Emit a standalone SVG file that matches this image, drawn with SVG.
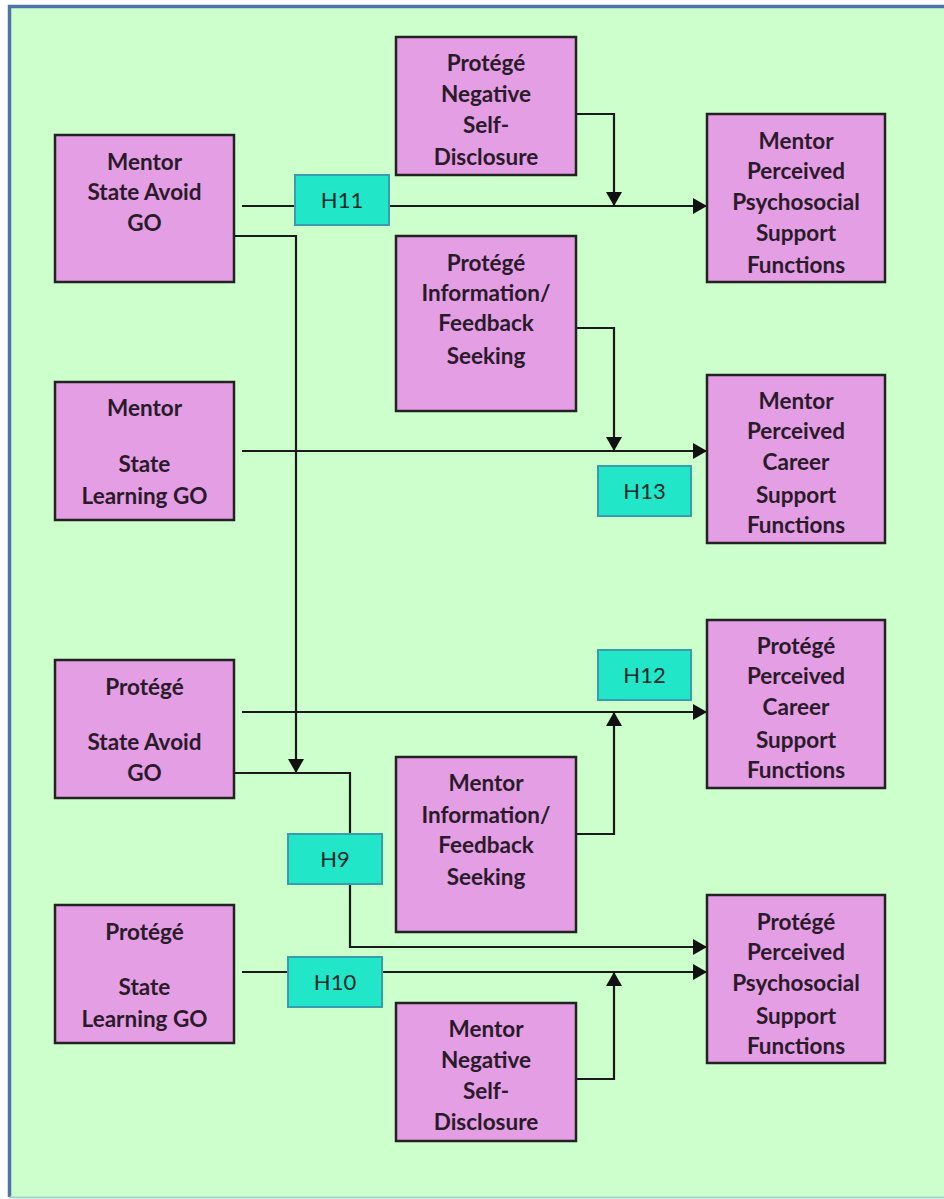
<svg xmlns="http://www.w3.org/2000/svg" width="944" height="1199" viewBox="0 0 944 1199">
  <style>
    .box { fill: #E49EE4; stroke: #222; stroke-width: 2.5; }
    .hyp { fill: #22E6C8; stroke: #3A9DAE; stroke-width: 2; }
    .lbl { font-family: Lato, "Open Sans", "Liberation Sans", sans-serif; font-weight: bold; font-size: 22.5px; fill: #2a1a2a; text-anchor: middle; }
    .hl { font-family: Lato, "Open Sans", "Liberation Sans", sans-serif; font-size: 22px; fill: #1a2a2a; text-anchor: middle; }
    .wire { fill: none; stroke: #1a1a1a; stroke-width: 2.2; }
  </style>
  <defs>
    <marker id="arrow" markerUnits="userSpaceOnUse" markerWidth="15" markerHeight="16" refX="14" refY="8" orient="auto">
      <path d="M0,0 L14,8 L0,16 z" fill="#111"/>
    </marker>
  </defs>

  <!-- canvas frame -->
  <rect x="0" y="0" width="944" height="1199" fill="#ffffff"/>
  <rect x="9" y="6" width="935" height="1191" fill="#CCFFCC"/>
  <path d="M9.5,1197 L9.5,6.5 L944,6.5" fill="none" stroke="#4E73A8" stroke-width="3.5"/>
  <line x1="9" y1="1197.5" x2="944" y2="1197.5" stroke="#9FD6D0" stroke-width="2"/>

  <!-- connectors -->
  <g id="connectors">
    <line class="wire" x1="242" y1="206" x2="295" y2="206"/>
    <line class="wire" x1="389" y1="206" x2="707" y2="206" marker-end="url(#arrow)"/>
    <path class="wire" d="M234,236 L296,236 L296,773" marker-end="url(#arrow)"/>
    <path class="wire" d="M576,114 L614,114 L614,206" marker-end="url(#arrow)"/>
    <line class="wire" x1="242" y1="451" x2="707" y2="451" marker-end="url(#arrow)"/>
    <path class="wire" d="M576,328 L614,328 L614,451" marker-end="url(#arrow)"/>
    <line class="wire" x1="242" y1="712" x2="707" y2="712" marker-end="url(#arrow)"/>
    <path class="wire" d="M576,834 L614,834 L614,712" marker-end="url(#arrow)"/>
    <path class="wire" d="M234,773 L350,773 L350,834"/>
    <path class="wire" d="M350,884 L350,947 L707,947" marker-end="url(#arrow)"/>
    <line class="wire" x1="242" y1="972" x2="288" y2="972"/>
    <line class="wire" x1="382" y1="972" x2="707" y2="972" marker-end="url(#arrow)"/>
    <path class="wire" d="M576,1079 L614,1079 L614,972" marker-end="url(#arrow)"/>
  </g>

  <!-- predictor nodes -->
  <g id="mentor-state-avoid">
    <rect class="box" x="55" y="135" width="179" height="147"/>
    <text class="lbl" x="144.5" y="170">Mentor</text>
    <text class="lbl" x="144.5" y="200">State Avoid</text>
    <text class="lbl" x="144.5" y="231">GO</text>
  </g>
  <g id="mentor-state-learning">
    <rect class="box" x="55" y="382" width="179" height="138"/>
    <text class="lbl" x="144.5" y="416">Mentor</text>
    <text class="lbl" x="144.5" y="472">State</text>
    <text class="lbl" x="144.5" y="504">Learning GO</text>
  </g>
  <g id="protege-state-avoid">
    <rect class="box" x="55" y="660" width="179" height="138"/>
    <text class="lbl" x="144.5" y="695">Protégé</text>
    <text class="lbl" x="144.5" y="750">State Avoid</text>
    <text class="lbl" x="144.5" y="781">GO</text>
  </g>
  <g id="protege-state-learning">
    <rect class="box" x="55" y="905" width="179" height="138"/>
    <text class="lbl" x="144.5" y="940">Protégé</text>
    <text class="lbl" x="144.5" y="995">State</text>
    <text class="lbl" x="144.5" y="1027">Learning GO</text>
  </g>

  <!-- moderator nodes -->
  <g id="protege-negative-disclosure">
    <rect class="box" x="396" y="37" width="180" height="138"/>
    <text class="lbl" x="486" y="71">Protégé</text>
    <text class="lbl" x="486" y="102">Negative</text>
    <text class="lbl" x="486" y="133">Self-</text>
    <text class="lbl" x="486" y="165">Disclosure</text>
  </g>
  <g id="protege-feedback-seeking">
    <rect class="box" x="396" y="236" width="180" height="175"/>
    <text class="lbl" x="486" y="271">Protégé</text>
    <text class="lbl" x="486" y="301">Information/</text>
    <text class="lbl" x="486" y="331">Feedback</text>
    <text class="lbl" x="486" y="364">Seeking</text>
  </g>
  <g id="mentor-feedback-seeking">
    <rect class="box" x="396" y="757" width="180" height="175"/>
    <text class="lbl" x="486" y="791">Mentor</text>
    <text class="lbl" x="486" y="823">Information/</text>
    <text class="lbl" x="486" y="853">Feedback</text>
    <text class="lbl" x="486" y="885">Seeking</text>
  </g>
  <g id="mentor-negative-disclosure">
    <rect class="box" x="396" y="1003" width="180" height="138"/>
    <text class="lbl" x="486" y="1037">Mentor</text>
    <text class="lbl" x="486" y="1068">Negative</text>
    <text class="lbl" x="486" y="1099">Self-</text>
    <text class="lbl" x="486" y="1130">Disclosure</text>
  </g>

  <!-- outcome nodes -->
  <g id="mentor-psychosocial">
    <rect class="box" x="707" y="114" width="178" height="168"/>
    <text class="lbl" x="796" y="149">Mentor</text>
    <text class="lbl" x="796" y="179">Perceived</text>
    <text class="lbl" x="796" y="210">Psychosocial</text>
    <text class="lbl" x="796" y="241">Support</text>
    <text class="lbl" x="796" y="273">Functions</text>
  </g>
  <g id="mentor-career">
    <rect class="box" x="707" y="375" width="178" height="168"/>
    <text class="lbl" x="796" y="409">Mentor</text>
    <text class="lbl" x="796" y="439">Perceived</text>
    <text class="lbl" x="796" y="470">Career</text>
    <text class="lbl" x="796" y="503">Support</text>
    <text class="lbl" x="796" y="533">Functions</text>
  </g>
  <g id="protege-career">
    <rect class="box" x="707" y="620" width="178" height="168"/>
    <text class="lbl" x="796" y="654">Protégé</text>
    <text class="lbl" x="796" y="684">Perceived</text>
    <text class="lbl" x="796" y="715">Career</text>
    <text class="lbl" x="796" y="748">Support</text>
    <text class="lbl" x="796" y="778">Functions</text>
  </g>
  <g id="protege-psychosocial">
    <rect class="box" x="707" y="895" width="178" height="168"/>
    <text class="lbl" x="796" y="930">Protégé</text>
    <text class="lbl" x="796" y="960">Perceived</text>
    <text class="lbl" x="796" y="991">Psychosocial</text>
    <text class="lbl" x="796" y="1024">Support</text>
    <text class="lbl" x="796" y="1054">Functions</text>
  </g>

  <!-- hypothesis tags -->
  <g id="h11">
    <rect class="hyp" x="295" y="175" width="94" height="50"/>
    <text class="hl" x="342" y="208">H11</text>
  </g>
  <g id="h13">
    <rect class="hyp" x="598" y="466" width="93" height="50"/>
    <text class="hl" x="644.5" y="499">H13</text>
  </g>
  <g id="h12">
    <rect class="hyp" x="598" y="650" width="93" height="50"/>
    <text class="hl" x="644.5" y="683">H12</text>
  </g>
  <g id="h9">
    <rect class="hyp" x="288" y="834" width="94" height="50"/>
    <text class="hl" x="335" y="867">H9</text>
  </g>
  <g id="h10">
    <rect class="hyp" x="288" y="957" width="94" height="50"/>
    <text class="hl" x="335" y="990">H10</text>
  </g>
</svg>
